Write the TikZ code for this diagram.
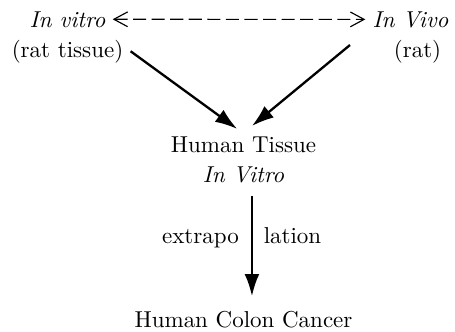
\documentclass[tikz,border=0pt]{standalone}
\usetikzlibrary{arrows.meta, positioning}

\tikzset{
  txt/.style={anchor=base, inner sep=3.3pt, font=\fontsize{10.9}{13}\selectfont},
  flow/.style={-{Latex[length=10.5pt, width=7pt]}, line width=1.1pt},
  twoway/.style={{Straight Barb[length=6.5pt, width=7pt]}-{Straight Barb[length=6.5pt, width=7pt]},
    line width=0.55pt, dash pattern=on 6.2pt off 2.6pt}
}

\begin{document}
\begin{tikzpicture}[x=0.474pt, y=-0.474pt]
  \useasboundingbox (0,0) rectangle (455,331);
  % rat models
  \node[txt] (vitro) at (67.5,27) {\textit{In vitro}};
  \node[txt] (rattissue) at (67.5,57) {(rat tissue)};
  \node[txt] (vivo) at (410.5,27) {\textit{In Vivo}};
  \node[txt] (rat) at (417.5,57) {(rat)};
  \coordinate (vivofoot) at (350,45);
  % human
  \node[txt] (tissue) at (243.5,152) {Human Tissue};
  \node[txt] (invitro) at (243.5,182) {\textit{In Vitro}};
  \node[txt] (extrapo) at (200.5,243) {extrapo};
  \node[txt] (lation) at (292.5,243) {lation};
  \node[txt] (cancer) at (243.5,327) {Human Colon Cancer};

  \draw[twoway] (vitro) -- (vivo);
  \draw[flow] (rattissue.east) -- ([xshift=-3pt]tissue.north);
  \draw[flow] (vivofoot) -- ([xshift=4pt, yshift=1.4pt]tissue.north);
  \draw[flow, shorten <=3pt, shorten >=3.4pt] ([xshift=4pt]invitro.south) -- ([xshift=4pt]cancer.north);
\end{tikzpicture}
\end{document}
